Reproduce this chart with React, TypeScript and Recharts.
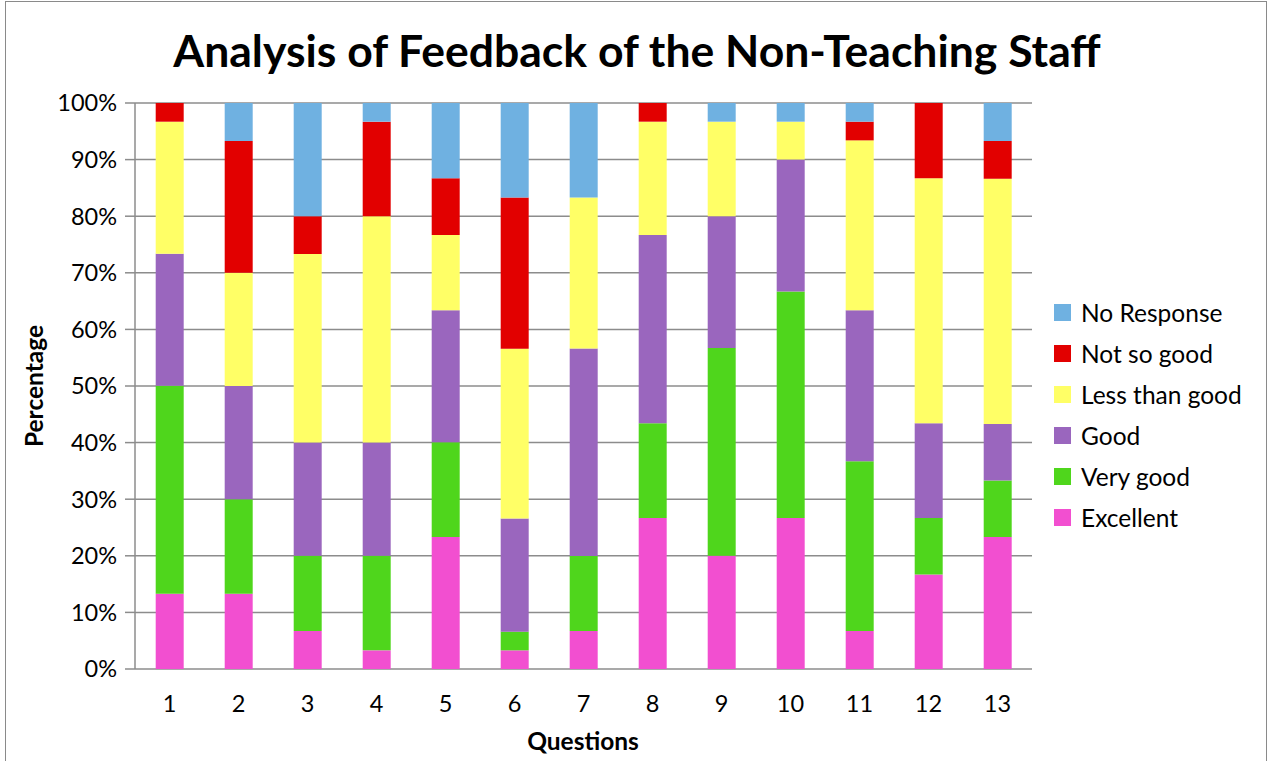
import React from 'react';
import { BarChart, Bar, XAxis, YAxis, CartesianGrid, Legend } from 'recharts';

const questions = ['1', '2', '3', '4', '5', '6', '7', '8', '9', '10', '11', '12', '13'];
const excellent = [13.3, 13.3, 6.7, 3.3, 23.3, 3.3, 6.7, 26.7, 20, 26.7, 6.7, 16.7, 23.3];
const veryGood = [36.7, 16.7, 13.3, 16.7, 16.7, 3.3, 13.3, 16.7, 36.7, 40, 30, 10, 10];
const good = [23.3, 20, 20, 20, 23.3, 20, 36.7, 33.3, 23.3, 23.3, 26.7, 16.7, 10];
const lessThanGood = [23.3, 20, 33.3, 40, 13.3, 30, 26.7, 20, 16.7, 6.7, 30, 43.3, 43.3];
const notSoGood = [3.3, 23.3, 6.7, 16.7, 10, 26.7, 0, 3.3, 0, 0, 3.3, 13.3, 6.7];
const noResponse = [0, 6.7, 20, 3.3, 13.3, 16.7, 16.7, 0, 3.3, 3.3, 3.3, 0, 6.7];
const yTicks = [0, 0.1, 0.2, 0.3, 0.4, 0.5, 0.6, 0.7, 0.8, 0.9, 1];
const boundaryTicks = [0, 1, 2, 3, 4, 5, 6, 7, 8, 9, 10, 11, 12, 13];

const series = [
  { key: 'excellent', name: 'Excellent', color: '#F24FD0', values: excellent },
  { key: 'veryGood', name: 'Very good', color: '#4FD61C', values: veryGood },
  { key: 'good', name: 'Good', color: '#9A66BE', values: good },
  { key: 'lessThanGood', name: 'Less than good', color: '#FFFF66', values: lessThanGood },
  { key: 'notSoGood', name: 'Not so good', color: '#E20000', values: notSoGood },
  { key: 'noResponse', name: 'No Response', color: '#6FB1E1', values: noResponse },
];

const data = questions.map((q, i) => {
  const row: Record<string, string | number> = { q };
  series.forEach((s) => {
    row[s.key] = s.values[i];
  });
  return row;
});

const FONT = 'Lato, "Open Sans", sans-serif';
const GRAY = '#8c8c8c';

const LegendContent = () => (
  <div style={{ fontFamily: FONT }}>
    {[...series].reverse().map((s) => (
      <div key={s.key} style={{ display: 'flex', alignItems: 'center', height: 41 }}>
        <div style={{ width: 17, height: 17, background: s.color, marginRight: 10 }} />
        <span style={{ fontSize: 24.5, color: '#000', whiteSpace: 'nowrap' }}>{s.name}</span>
      </div>
    ))}
  </div>
);

export default function App() {
  return (
    <div style={{ position: 'absolute', left: 0, top: 0, width: 1267, height: 761, background: '#fff', overflow: 'hidden' }}>
      <div style={{ position: 'absolute', left: 5, top: 1, width: 1260, height: 800, borderLeft: '1px solid #8a8a8a', borderTop: '1px solid #8a8a8a', borderRight: '1px solid #8a8a8a' }} />
      <div style={{ position: 'absolute', left: 0, top: 22, width: 1274, textAlign: 'center', fontFamily: FONT, fontWeight: 700, fontSize: 44.5, color: '#000', lineHeight: '56px', whiteSpace: 'nowrap' }}>
        Analysis of Feedback of the Non-Teaching Staff
      </div>
      <div style={{ position: 'absolute', left: 33, top: 386, transform: 'translate(-50%, -50%) rotate(-90deg)', fontFamily: FONT, fontWeight: 700, fontSize: 24.5, color: '#000', whiteSpace: 'nowrap' }}>
        Percentage
      </div>
      <div style={{ position: 'absolute', left: 583, top: 740, transform: 'translate(-50%, -50%)', fontFamily: FONT, fontWeight: 700, fontSize: 24.5, color: '#000', whiteSpace: 'nowrap' }}>
        Questions
      </div>
      <div style={{ position: 'absolute', left: 0, top: 0 }}>
        <BarChart
          width={1267}
          height={761}
          data={data}
          stackOffset="expand"
          barCategoryGap="30%"
          margin={{ top: 103, right: 235, left: 0, bottom: 0 }}
        >
          <CartesianGrid horizontal vertical={false} stroke={GRAY} strokeWidth={1.5} />
          <XAxis
            xAxisId="edges"
            type="number"
            dataKey={() => 0}
            domain={[0, 13]}
            ticks={boundaryTicks}
            allowDataOverflow
            height={0}
            tick={false}
            tickSize={10}
            axisLine={{ stroke: GRAY, strokeWidth: 1.5 }}
            tickLine={{ stroke: GRAY, strokeWidth: 1.5 }}
          />
          <XAxis
            xAxisId="cat"
            dataKey="q"
            height={92}
            axisLine={false}
            tickLine={false}
            tickSize={0}
            tickMargin={26}
            interval={0}
            tick={{ fill: '#000', fontSize: 23.5, fontFamily: FONT }}
          />
          <YAxis
            width={135}
            domain={[0, 1]}
            ticks={yTicks}
            interval={0}
            tickFormatter={(v: number) => `${Math.round(v * 100)}%`}
            tickSize={10}
            tickMargin={8}
            axisLine={{ stroke: GRAY, strokeWidth: 1.5 }}
            tickLine={{ stroke: GRAY, strokeWidth: 1.5 }}
            tick={{ fill: '#000', fontSize: 23.5, fontFamily: FONT }}
          />
          <Legend
            layout="vertical"
            align="center"
            verticalAlign="middle"
            content={LegendContent}
            wrapperStyle={{ left: 1054, top: 292, width: 212, height: 250 }}
          />
          {series.map((s) => (
            <Bar key={s.key} xAxisId="cat" dataKey={s.key} name={s.name} stackId="a" fill={s.color} isAnimationActive={false} />
          ))}
        </BarChart>
      </div>
    </div>
  );
}
